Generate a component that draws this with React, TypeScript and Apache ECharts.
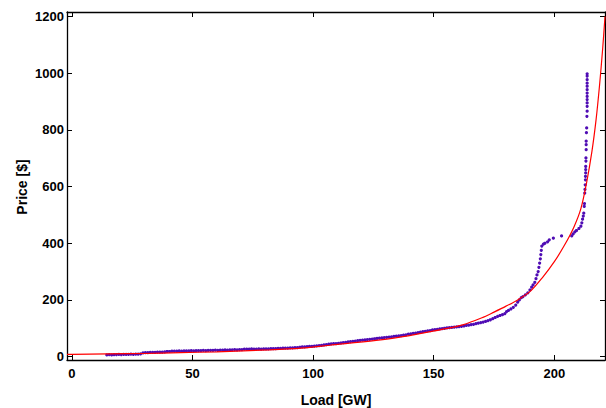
import React, { useEffect, useRef } from "react";
import * as echarts from "echarts";

// Observed market points: load (GW) and price ($)
const loadGW = [
  14.5, 15.5, 16.5, 17.5, 18.5, 19.5, 20.5, 21.5, 22.5, 23.5, 24.5, 25.5, 26.5, 27.5, 28.5,
  29.5, 30.5, 31.5, 32.5, 33.5, 34.5, 35.5, 36.5, 37.5, 38.5,
  39.5, 40.5, 41.5, 42.5, 43.5, 44.5, 45.5, 46.5, 47.5, 48.5,
  49.5, 50.5, 51.5, 52.5, 53.5, 54.5, 55.5, 56.5, 57.5, 58.5,
  59.5, 60.5, 61.5, 62.5, 63.5, 64.5, 65.5, 66.5, 67.5, 68.5,
  69.5, 70.5, 71.5, 72.5, 73.5, 74.5, 75.5, 76.5, 77.5, 78.5,
  79.5, 80.5, 81.5, 82.5, 83.5, 84.5, 85.5, 86.5, 87.5, 88.5,
  89.5, 90.5, 91.5, 92.5, 93.5, 94.5, 95.5, 96.5, 97.5, 98.5,
  99.5, 100.5, 101.5, 102.5, 103.5, 104.5, 105.5, 106.5, 107.5, 108.5,
  109.5, 110.5, 111.5, 112.5, 113.5, 114.5, 115.5, 116.5, 117.5, 118.5,
  119.5, 120.5, 121.5, 122.5, 123.5, 124.5, 125.5, 126.5, 127.5, 128.5,
  129.5, 130.5, 131.5, 132.5, 133.5, 134.5, 135.5, 136.5, 137.5, 138.5,
  139.5, 140.5, 141.5, 142.5, 143.5, 144.5, 145.5, 146.5, 147.5, 148.5,
  149.5, 150.5, 151.5, 152.5, 153.5, 154.5, 155.5, 156.5, 157.5, 158.5,
  159.5, 160.5, 161.5, 162.5, 163.5, 164.5, 165.5, 166.5, 167.5, 168.5,
  169.5, 170.5, 171.5, 172.5, 173.5, 174.5, 175.5, 176.5, 177.5, 178.5, 179.5,
  180.2, 181, 182, 183, 184, 184.8, 185.5, 186.3, 187, 188, 189, 189.9,
  190.6, 191.2, 191.9, 192.4, 192.8, 193.3, 193.6, 193.9, 194.2, 194.4, 194.6, 194.8,
  195.5, 196.1, 197.2, 197.9, 199.6, 203, 207.2, 207.8, 208.5, 209.2, 210.2, 211,
  211.4, 211.7, 212, 212.2, 212.4, 212.5, 212.6, 212.7, 212.8, 212.9, 212.9, 213,
  213, 213, 213.1, 213.1, 213.2, 213.2, 213.2, 213.3, 213.4, 213.5, 213.6, 213.6,
  213.6, 213.6, 213.6, 213.6, 213.6, 213.6, 213.6, 213.6, 213.6, 213.6,
];

const priceUSD = [
  6, 7, 6, 7, 7, 8, 7, 8, 8, 8, 9, 8, 9, 9, 10,
  13, 14, 14, 15, 15, 15, 16, 16, 16, 17,
  18, 18, 19, 19, 19, 20, 19, 20, 20, 20,
  21, 20, 21, 21, 21, 22, 21, 22, 22, 22,
  23, 22, 23, 23, 24, 23, 24, 24, 25, 24,
  25, 25, 26, 26, 26, 27, 26, 26, 27, 26,
  27, 27, 27, 28, 28, 28, 29, 29, 30, 30,
  30, 31, 31, 32, 32, 33, 34, 34, 35, 36,
  36, 37, 38, 39, 40, 41, 42, 44, 45, 46,
  46, 47, 48, 49, 50, 52, 53, 54, 55, 56,
  57, 58, 59, 60, 61, 62, 63, 64, 65, 66,
  67, 68, 69, 70, 71, 72, 73, 74, 76, 77,
  79, 80, 82, 83, 85, 86, 88, 89, 91, 92,
  94, 95, 96, 98, 99, 100, 101, 102, 103, 104,
  105, 106, 107, 108, 110, 111, 113, 114, 116, 118,
  120, 122, 124, 127, 130, 134, 138, 142, 145, 148, 152,
  159, 163, 168, 174, 182, 192, 200, 208, 212, 218, 225, 235,
  245, 253, 262, 275, 288, 300, 315, 330, 345, 360, 375, 390,
  397, 400, 405, 412, 418, 426, 426, 433, 440, 445, 452, 460,
  472, 485, 496, 506, 530, 540, 577, 590, 606, 624, 636, 648,
  660, 671, 690, 701, 730, 748, 760, 790, 807, 848, 866, 883,
  895, 907, 918, 930, 942, 954, 965, 977, 990, 998,
];

// Fitted curve
const fitLoad = [
  -2, 0, 15, 30, 45, 60, 82, 95, 107, 111, 128, 140, 148, 153, 162, 170, 175, 180, 185,
  190, 195, 200, 204, 208, 211, 213.4, 215.6, 217.3, 218.7, 220, 221,
];
const fitPrice = [
  7.5, 8, 9.5, 11, 14, 17, 24, 30, 40, 44, 59, 74, 87, 95, 112, 137, 157, 178, 201,
  230, 278, 335, 390, 455, 522, 615, 725, 836, 954, 1083, 1200,
];

const xTicks = [0, 50, 100, 150, 200];
const yTicks = [0, 200, 400, 600, 800, 1000, 1200];
const xTitle = "Load [GW]";
const yTitle = "Price [$]";

const FONT = "Liberation Sans, Arial, Helvetica, sans-serif";

export default function App() {
  const ref = useRef<HTMLDivElement>(null);

  useEffect(() => {
    if (!ref.current) return;
    const chart = echarts.init(ref.current, null, { renderer: "svg" });

    const points = loadGW.map((x, i) => [x, priceUSD[i]]);
    const fit = fitLoad.map((x, i) => [x, fitPrice[i]]);

    const lineStyle = { color: "#000", width: 1.3 };
    const tickStyle = { color: "#000", width: 1 };
    const labelStyle = {
      fontFamily: FONT,
      fontWeight: "bold" as const,
      fontSize: 13,
      color: "#000",
      formatter: (v: number) => String(v),
    };

    chart.setOption({
      animation: false,
      backgroundColor: "#fff",
      grid: { left: 67, right: 1, top: 12, bottom: 48, containLabel: false },
      graphic: [
        {
          type: "text",
          x: 336,
          y: 400,
          style: {
            text: xTitle,
            fontFamily: FONT,
            fontWeight: "bold",
            fontSize: 14,
            fill: "#000",
            align: "center",
            verticalAlign: "middle",
          },
        },
        {
          type: "text",
          x: 22,
          y: 187,
          rotation: Math.PI / 2,
          style: {
            text: yTitle,
            fontFamily: FONT,
            fontWeight: "bold",
            fontSize: 14,
            fill: "#000",
            align: "center",
            verticalAlign: "middle",
          },
        },
      ],
      xAxis: [
        {
          type: "value",
          min: -2,
          max: 221,
          position: "bottom",
          axisLine: { show: true, onZero: false, lineStyle },
          axisTick: { show: true, inside: true, length: 5, customValues: xTicks, lineStyle: tickStyle },
          axisLabel: { show: true, customValues: xTicks, margin: 7, ...labelStyle },
          splitLine: { show: false },
        },
        {
          type: "value",
          min: -2,
          max: 221,
          position: "top",
          axisLine: { show: true, onZero: false, lineStyle },
          axisTick: { show: true, inside: true, length: 5, customValues: xTicks, lineStyle: tickStyle },
          axisLabel: { show: false },
          splitLine: { show: false },
        },
      ],
      yAxis: [
        {
          type: "value",
          min: -12,
          max: 1216,
          position: "left",
          axisLine: { show: true, onZero: false, lineStyle },
          axisTick: { show: true, inside: true, length: 5, customValues: yTicks, lineStyle: tickStyle },
          axisLabel: { show: true, customValues: yTicks, margin: 3, ...labelStyle },
          splitLine: { show: false },
        },
        {
          type: "value",
          min: -12,
          max: 1216,
          position: "right",
          axisLine: { show: true, onZero: false, lineStyle },
          axisTick: { show: true, inside: true, length: 5, customValues: yTicks, lineStyle: tickStyle },
          axisLabel: { show: false },
          splitLine: { show: false },
        },
      ],
      series: [
        {
          type: "scatter",
          xAxisIndex: 0,
          yAxisIndex: 0,
          data: points,
          symbol: "circle",
          symbolSize: 3.2,
          itemStyle: { color: "#4f0cb4", opacity: 1 },
          z: 2,
        },
        {
          type: "line",
          xAxisIndex: 0,
          yAxisIndex: 0,
          data: fit,
          showSymbol: false,
          smooth: 0.3,
          clip: true,
          lineStyle: { color: "#ff0000", width: 1.2 },
          z: 3,
        },
      ],
    });

    return () => chart.dispose();
  }, []);

  return (
    <div
      ref={ref}
      style={{ position: "absolute", left: 0, top: 0, width: 606, height: 408 }}
    />
  );
}
